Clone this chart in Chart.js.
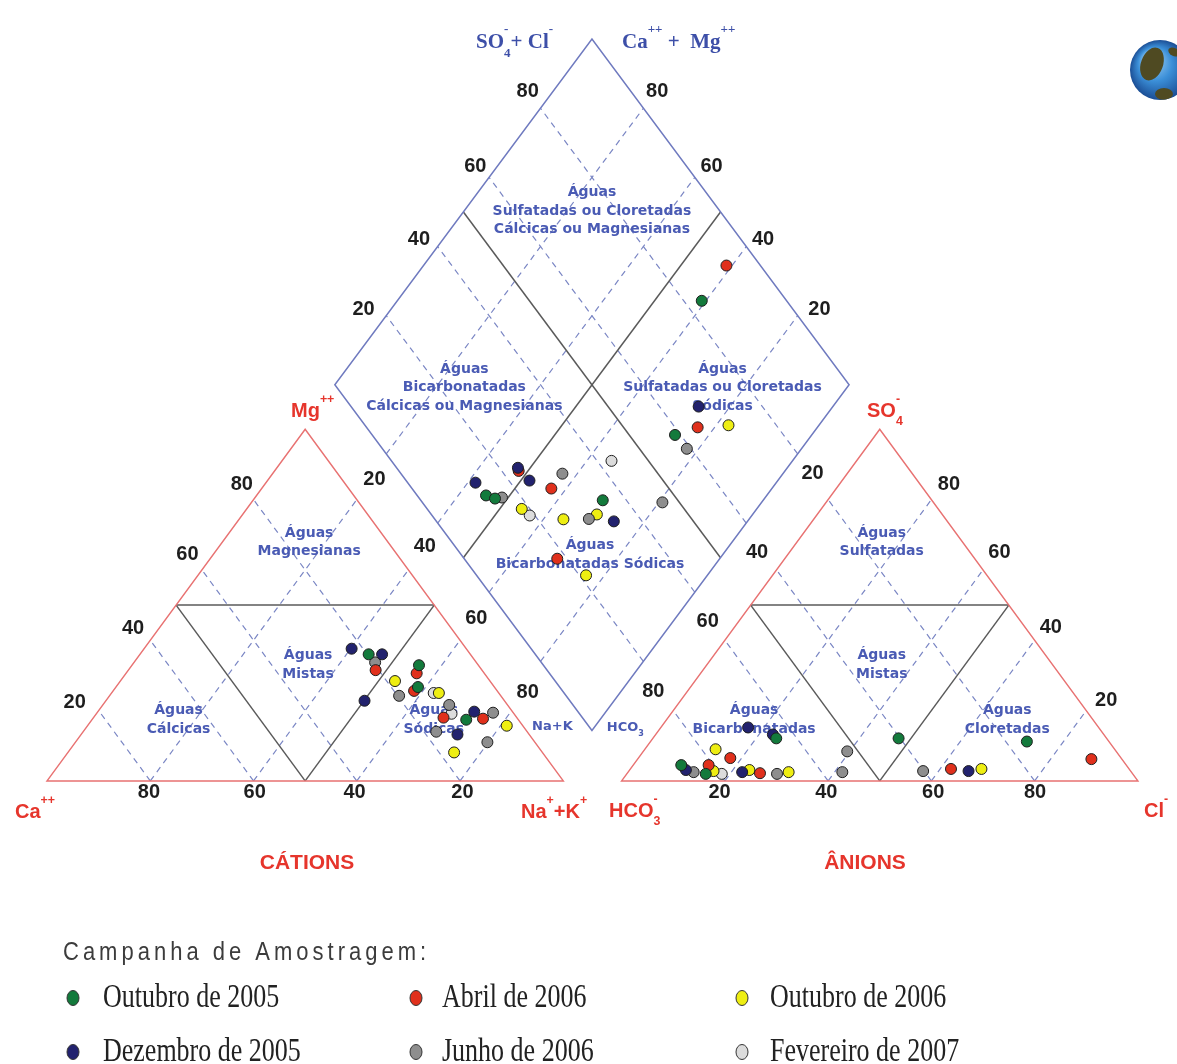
<!DOCTYPE html>
<html>
<head>
<meta charset="utf-8">
<title>Diagrama de Piper</title>
<script src="https://cdn.jsdelivr.net/npm/chart.js@4/dist/chart.umd.min.js"></script>
<style>
  html, body { margin: 0; padding: 0; background: #ffffff; overflow: hidden; }
  canvas { display: block; }
</style>
</head>
<body>
<canvas id="piper" width="1177" height="1064"></canvas>
<script>
// ---------------------------------------------------------------
// Sampling campaigns (legend order)
// ---------------------------------------------------------------
const campaigns = ['Outubro de 2005', 'Dezembro de 2005', 'Abril de 2006',
                   'Junho de 2006', 'Outubro de 2006', 'Fevereiro de 2007'];
const campaignColors = ['#137a3c', '#22226e', '#e0301c', '#8e8e8e', '#eeee12', '#dcdcdc'];

// Cation triangle: [Mg %, Na+K %]  (Ca = 100 - Mg - Na+K)
const cationsOut2005 = [[36.0, 44.3], [32.9, 55.6], [26.7, 58.5], [17.4, 72.5]];
const cationsDez2005 = [[37.6, 40.2], [36.0, 46.9], [22.8, 50.1], [19.7, 72.9], [13.2, 72.9]];
const cationsAbr2006 = [[31.5, 47.9], [30.6, 56.3], [25.6, 58.3], [18.0, 67.8], [17.7, 75.6]];
const cationsJun2006 = [[33.7, 46.7], [24.2, 56.1], [21.6, 67.1], [19.4, 76.7], [14.0, 68.4], [11.0, 79.8]];
const cationsOut2006 = [[28.4, 53.2], [25.0, 63.4], [15.7, 81.2], [8.1, 74.8]];
const cationsFev2007 = [[25.0, 62.4], [19.1, 68.8]];

// Anion triangle: [SO4 %, Cl %]  (HCO3 = 100 - SO4 - Cl)
const anionsOut2005 = [[12.1, 23.9], [12.1, 47.6], [11.2, 72.9], [4.5, 9.3], [2.0, 15.3]];
const anionsDez2005 = [[15.2, 16.9], [13.2, 22.7], [2.8, 65.8], [3.1, 10.9], [2.5, 22.1]];
const anionsAbr2006 = [[6.2, 87.9], [3.4, 62.1], [6.5, 17.8], [4.5, 14.6], [2.2, 25.7]];
const anionsJun2006 = [[8.4, 39.5], [2.5, 41.5], [2.8, 57.0], [2.5, 12.7], [2.0, 29.1]];
const anionsOut2006 = [[3.4, 68.0], [9.0, 13.7], [2.8, 16.4], [3.1, 23.2], [2.5, 31.1]];
const anionsFev2007 = [[2.0, 18.4]];

// Central diamond: [Ca+Mg %, SO4+Cl %]
const diamondOut2005 = [[40.8, 83.5], [26.6, 58.9], [54.6, 13.4], [52.4, 14.7], [31.2, 35.4]];
const diamondDez2005 = [[26.1, 67.6], [58.5, 13.2], [52.4, 23.6], [48.3, 24.0], [26.0, 34.5]];
const diamondAbr2006 = [[41.1, 93.4], [23.3, 64.4], [51.8, 23.3], [42.9, 27.1], [31.6, 18.1]];
const diamondJun2006 = [[22.3, 59.2], [42.9, 31.4], [51.2, 16.2], [31.2, 30.0], [19.3, 46.7]];
const diamondOut2006 = [[17.6, 70.7], [45.7, 18.4], [36.1, 25.0], [30.3, 32.2], [23.6, 21.3]];
const diamondFev2007 = [[35.2, 42.8], [43.2, 19.0]];

// Percentage ticks on every side
const tickValues = ['20', '40', '60', '80'];
const gridSteps = [20, 40, 60, 80];

const cationSets = [cationsOut2005, cationsDez2005, cationsAbr2006, cationsJun2006, cationsOut2006, cationsFev2007];
const anionSets = [anionsOut2005, anionsDez2005, anionsAbr2006, anionsJun2006, anionsOut2006, anionsFev2007];
const diamondSets = [diamondOut2005, diamondDez2005, diamondAbr2006, diamondJun2006, diamondOut2006, diamondFev2007];

// ---------------------------------------------------------------
// Diagram geometry, in the units of the x / y scales
// ---------------------------------------------------------------
const CAT = { left: 41, right: 563, base: 784, h: 356 };
const AN  = { left: 622, right: 1144, base: 784, h: 356 };
const DIA = { cx: 592, bottom: 733, halfW: 260, halfH: 350 };

function catXY(mg, na) {
  const w = CAT.right - CAT.left;
  return { x: CAT.left + w * na / 100 + w / 2 * mg / 100, y: CAT.base - CAT.h * mg / 100 };
}
function anXY(so4, cl) {
  const w = AN.right - AN.left;
  return { x: AN.left + w * cl / 100 + w / 2 * so4 / 100, y: AN.base - AN.h * so4 / 100 };
}
function diaXY(camg, so4cl) {
  return {
    x: DIA.cx - DIA.halfW * camg / 100 + DIA.halfW * so4cl / 100,
    y: DIA.bottom - DIA.halfH * camg / 100 - DIA.halfH * so4cl / 100
  };
}

// Tick label anchors (centre of each label), listed for 20, 40, 60, 80
const tickAnchors = [
  [[361, 307], [417, 236], [474, 162], [527, 86]],    // diamond, SO4 + Cl
  [[822, 307], [765, 236], [713, 162], [658, 86]],    // diamond, Ca + Mg
  [[69, 705], [128, 630], [183, 555], [238, 484]],    // cations, Mg
  [[372, 479], [423, 547], [475, 620], [527, 694]],   // cations, Na + K
  [[461, 796], [352, 796], [251, 796], [144, 796]],   // cations, Ca
  [[815, 473], [759, 553], [709, 623], [654, 693]],   // anions, HCO3
  [[1112, 703], [1056, 629], [1004, 553], [953, 484]],// anions, SO4
  [[721, 796], [829, 796], [937, 796], [1040, 796]]   // anions, Cl
];

// Field names
const fieldLabels = [
  [['Águas', 'Sulfatadas ou Cloretadas', 'Cálcicas ou Magnesianas'], 592, 188],
  [['Águas', 'Bicarbonatadas', 'Cálcicas ou Magnesianas'], 463, 367],
  [['Águas', 'Sulfatadas ou Cloretadas', 'Sódicas'], 724, 367],
  [['Águas', 'Bicarbonatadas Sódicas'], 590, 546],
  [['Águas', 'Magnesianas'], 306, 533],
  [['Águas', 'Mistas'], 305, 657],
  [['Águas', 'Cálcicas'], 174, 713],
  [['Águas', 'Sódicas'], 432, 713],
  [['Águas', 'Sulfatadas'], 885, 533],
  [['Águas', 'Mistas'], 885, 657],
  [['Águas', 'Bicarbonatadas'], 756, 713],
  [['Águas', 'Cloretadas'], 1012, 713]
];

// ---------------------------------------------------------------
// Drawing helpers
// ---------------------------------------------------------------
function drawRich(ctx, parts, x, y, size, family, weight, color) {
  let cx = x;
  ctx.fillStyle = color;
  ctx.textBaseline = 'alphabetic';
  ctx.textAlign = 'left';
  for (const p of parts) {
    const k = p.k || 0;
    const fs = k ? size * 0.62 : size;
    ctx.font = weight + ' ' + fs + 'px ' + family;
    const dy = k === 1 ? -size * 0.72 : (k === -1 ? size * 0.42 : 0);
    ctx.fillText(p.t, cx, y + dy);
    if (!p.stay) cx += ctx.measureText(p.t).width;
  }
}

const SANS = "'Liberation Sans', Arial, sans-serif";
const SERIF = "'Liberation Serif', 'Times New Roman', serif";
const FIELD = "'DejaVu Sans', Verdana, sans-serif";

const piperFrame = {
  id: 'piperFrame',
  beforeDatasetsDraw(chart) {
    const ctx = chart.ctx;
    const sx = chart.scales.x, sy = chart.scales.y;
    const P = p => [sx.getPixelForValue(p.x), sy.getPixelForValue(p.y)];
    const seg = (a, b) => {
      const [x1, y1] = P(a), [x2, y2] = P(b);
      ctx.beginPath(); ctx.moveTo(x1, y1); ctx.lineTo(x2, y2); ctx.stroke();
    };
    const poly = pts => {
      ctx.beginPath();
      pts.forEach((p, i) => { const [px, py] = P(p); i ? ctx.lineTo(px, py) : ctx.moveTo(px, py); });
      ctx.closePath(); ctx.stroke();
    };
    ctx.save();
    ctx.lineCap = 'butt';

    // dashed percentage grid
    ctx.setLineDash([6, 5]);
    ctx.strokeStyle = '#7a86c4';
    ctx.lineWidth = 1.2;
    for (const v of gridSteps) {
      seg(catXY(0, 100 - v), catXY(100 - v, 0));   // Ca = v
      seg(catXY(0, v), catXY(100 - v, v));         // Na+K = v
      seg(anXY(0, 100 - v), anXY(100 - v, 0));     // HCO3 = v
      seg(anXY(0, v), anXY(100 - v, v));           // Cl = v
      seg(diaXY(v, 0), diaXY(v, 100));             // Ca+Mg = v
      seg(diaXY(0, v), diaXY(100, v));             // SO4+Cl = v
    }
    ctx.setLineDash([]);

    // field boundaries
    ctx.strokeStyle = '#5a5a5a';
    ctx.lineWidth = 1.5;
    seg(catXY(50, 0), catXY(50, 50));
    seg(catXY(50, 0), catXY(0, 50));
    seg(catXY(50, 50), catXY(0, 50));
    seg(anXY(50, 0), anXY(50, 50));
    seg(anXY(50, 0), anXY(0, 50));
    seg(anXY(50, 50), anXY(0, 50));
    seg(diaXY(50, 0), diaXY(50, 100));
    seg(diaXY(0, 50), diaXY(100, 50));

    // outlines
    ctx.strokeStyle = '#e87272';
    ctx.lineWidth = 1.5;
    poly([catXY(0, 0), catXY(0, 100), catXY(100, 0)]);
    poly([anXY(0, 0), anXY(0, 100), anXY(100, 0)]);
    ctx.strokeStyle = '#6f7abf';
    poly([diaXY(0, 0), diaXY(100, 0), diaXY(100, 100), diaXY(0, 100)]);

    // tick labels
    ctx.fillStyle = '#1e1e1e';
    ctx.font = 'bold 20px ' + SANS;
    ctx.textAlign = 'center';
    ctx.textBaseline = 'middle';
    tickAnchors.forEach(side => side.forEach((a, i) => {
      ctx.fillText(tickValues[i], sx.getPixelForValue(a[0]), sy.getPixelForValue(a[1]));
    }));

    // field names
    ctx.fillStyle = '#4a5bb4';
    ctx.font = 'bold 14px ' + FIELD;
    fieldLabels.forEach(([lines, x, y]) => {
      lines.forEach((t, i) => ctx.fillText(t, sx.getPixelForValue(x), sy.getPixelForValue(y + i * 19)));
    });

    // small corner labels of the diamond
    ctx.font = 'bold 13px ' + FIELD;
    ctx.fillText('Na+K', sx.getPixelForValue(552), sy.getPixelForValue(729));
    drawRich(ctx, [{ t: 'HCO' }, { t: '3', k: -1 }], sx.getPixelForValue(607), sy.getPixelForValue(733), 13, FIELD, 'bold', '#4a5bb4');

    // vertex labels
    const RED = '#e6352c';
    drawRich(ctx, [{ t: 'Mg' }, { t: '++', k: 1 }], 291, 417, 20, SANS, 'bold', RED);
    drawRich(ctx, [{ t: 'Ca' }, { t: '++', k: 1 }], 15, 818, 20, SANS, 'bold', RED);
    drawRich(ctx, [{ t: 'Na' }, { t: '+', k: 1 }, { t: '+K' }, { t: '+', k: 1 }], 521, 818, 20, SANS, 'bold', RED);
    drawRich(ctx, [{ t: 'HCO' }, { t: '-', k: 1, stay: true }, { t: '3', k: -1 }], 609, 817, 20, SANS, 'bold', RED);
    drawRich(ctx, [{ t: 'Cl' }, { t: '-', k: 1 }], 1144, 817, 20, SANS, 'bold', RED);
    drawRich(ctx, [{ t: 'SO' }, { t: '-', k: 1, stay: true }, { t: '4', k: -1 }], 867, 417, 20, SANS, 'bold', RED);

    // diamond axis titles
    const BLUE = '#3d4fa8';
    drawRich(ctx, [{ t: 'SO' }, { t: '-', k: 1, stay: true }, { t: '4', k: -1 }, { t: '+ Cl' }, { t: '-', k: 1 }], 476, 48, 21, SERIF, 'bold', BLUE);
    drawRich(ctx, [{ t: 'Ca' }, { t: '++', k: 1 }, { t: ' +  Mg' }, { t: '++', k: 1 }], 622, 48, 21, SERIF, 'bold', BLUE);

    // panel titles
    ctx.fillStyle = RED;
    ctx.font = 'bold 21px ' + SANS;
    ctx.textAlign = 'center';
    ctx.textBaseline = 'middle';
    ctx.fillText('CÁTIONS', 307, 863);
    ctx.fillText('ÂNIONS', 865, 863);
    ctx.restore();
  },
  afterDraw(chart) {
    const ctx = chart.ctx;
    ctx.save();
    // campaign legend
    ctx.fillStyle = '#3c3c3c';
    ctx.font = '22px ' + SANS;
    ctx.textAlign = 'left';
    ctx.textBaseline = 'middle';
    try { ctx.letterSpacing = '4px'; } catch (e) {}
    ctx.save();
    ctx.translate(63, 953);
    ctx.scale(1, 1.2);
    ctx.fillText('Campanha de Amostragem:', 0, 0);
    ctx.restore();
    try { ctx.letterSpacing = '0px'; } catch (e) {}

    const cols = [[73, 103], [416, 442], [742, 770]];
    const rows = [998, 1052];
    campaigns.forEach((name, i) => {
      const col = cols[Math.floor(i / 2)];
      const y = rows[i % 2];
      ctx.beginPath();
      ctx.ellipse(col[0], y, 6, 7.5, 0, 0, Math.PI * 2);
      ctx.fillStyle = campaignColors[i];
      ctx.fill();
      ctx.lineWidth = 1;
      ctx.strokeStyle = '#333333';
      ctx.stroke();
      ctx.save();
      ctx.translate(col[1], y);
      ctx.scale(1, 1.3);
      ctx.fillStyle = '#222222';
      ctx.font = '26px ' + SERIF;
      ctx.textBaseline = 'middle';
      ctx.fillText(name, 0, 0);
      ctx.restore();
    });

    // globe emblem in the corner
    const gx = 1160, gy = 70, gr = 30;
    const g = ctx.createRadialGradient(gx - 10, gy - 12, 4, gx, gy, gr);
    g.addColorStop(0, '#9fd0f5');
    g.addColorStop(0.5, '#3b8fd8');
    g.addColorStop(1, '#1b4e95');
    ctx.beginPath();
    ctx.arc(gx, gy, gr, 0, Math.PI * 2);
    ctx.fillStyle = g;
    ctx.fill();
    ctx.save();
    ctx.clip();
    ctx.fillStyle = '#4f4a22';
    ctx.beginPath();
    ctx.ellipse(gx - 8, gy - 6, 11, 17, 0.35, 0, Math.PI * 2);
    ctx.fill();
    ctx.beginPath();
    ctx.ellipse(gx + 4, gy + 24, 9, 6, 0, 0, Math.PI * 2);
    ctx.fill();
    ctx.beginPath();
    ctx.ellipse(gx + 14, gy - 18, 6, 4, 0.5, 0, Math.PI * 2);
    ctx.fill();
    ctx.restore();
    ctx.restore();
  }
};

// ---------------------------------------------------------------
// Chart
// ---------------------------------------------------------------
const datasets = campaigns.map((name, i) => ({
  label: name,
  data: [
    ...cationSets[i].map(([mg, na]) => catXY(mg, na)),
    ...anionSets[i].map(([so4, cl]) => anXY(so4, cl)),
    ...diamondSets[i].map(([cm, sc]) => diaXY(cm, sc))
  ],
  backgroundColor: campaignColors[i],
  borderColor: '#1e1e1e',
  borderWidth: 1,
  pointRadius: 5.5,
  pointHoverRadius: 5.5,
  clip: false
}));

new Chart(document.getElementById('piper').getContext('2d'), {
  type: 'scatter',
  data: { datasets },
  options: {
    responsive: false,
    animation: false,
    devicePixelRatio: 1,
    events: [],
    layout: { padding: 0 },
    scales: {
      x: { type: 'linear', min: 0, max: 1177, display: false },
      y: { type: 'linear', min: 0, max: 1064, reverse: true, display: false }
    },
    plugins: { legend: { display: false }, tooltip: { enabled: false } }
  },
  plugins: [piperFrame]
});
</script>
</body>
</html>
